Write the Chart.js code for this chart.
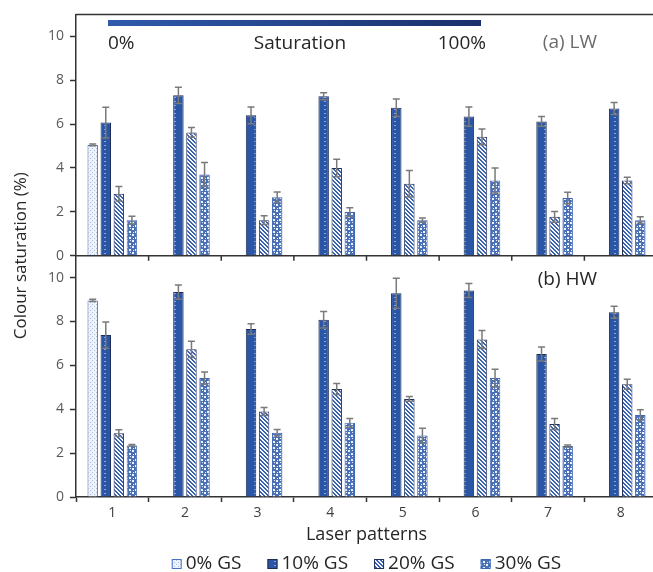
<!DOCTYPE html>
<html>
<head>
<meta charset="utf-8">
<title>Colour saturation</title>
<script src="https://cdn.jsdelivr.net/npm/chart.js@4.4.1/dist/chart.umd.min.js"></script>
<style>
  html, body { margin: 0; padding: 0; background: #fff; overflow: hidden; }
  #wrap { position: relative; width: 660px; height: 572px; }
</style>
</head>
<body>
<div id="wrap"><canvas id="chart"></canvas></div>
<script>
"use strict";

// Data
const patterns = ["1", "2", "3", "4", "5", "6", "7", "8"];
const seriesNames = ["0% GS", "10% GS", "20% GS", "30% GS"];

// (a) LW
const lw0  = [5.05, null, null, null, null, null, null, null];
const lw10 = [6.07, 7.31, 6.40, 7.27, 6.74, 6.34, 6.12, 6.71];
const lw20 = [2.82, 5.62, 1.62, 4.00, 3.28, 5.42, 1.77, 3.43];
const lw30 = [1.62, 3.70, 2.67, 1.99, 1.62, 3.43, 2.63, 1.62];
const lw0Err  = [0.04, null, null, null, null, null, null, null];
const lw10Err = [0.70, 0.37, 0.38, 0.16, 0.40, 0.44, 0.22, 0.27];
const lw20Err = [0.33, 0.22, 0.20, 0.40, 0.60, 0.36, 0.25, 0.15];
const lw30Err = [0.18, 0.55, 0.23, 0.20, 0.10, 0.57, 0.26, 0.15];

// (b) HW
const hw0  = [8.96, null, null, null, null, null, null, null];
const hw10 = [7.38, 9.34, 7.66, 8.08, 9.29, 9.41, 6.52, 8.42];
const hw20 = [2.91, 6.73, 3.90, 4.92, 4.47, 7.18, 3.33, 5.14];
const hw30 = [2.35, 5.42, 2.93, 3.38, 2.80, 5.42, 2.32, 3.74];
const hw0Err  = [0.05, null, null, null, null, null, null, null];
const hw10Err = [0.60, 0.33, 0.24, 0.38, 0.68, 0.32, 0.32, 0.27];
const hw20Err = [0.15, 0.37, 0.18, 0.25, 0.11, 0.41, 0.25, 0.23];
const hw30Err = [0.04, 0.28, 0.15, 0.20, 0.33, 0.40, 0.05, 0.24];

const yTicks = [0, 2, 4, 6, 8, 10];

// Fill patterns for the four series
function makePattern(w, h, draw) {
  const c = document.createElement("canvas");
  c.width = w; c.height = h;
  draw(c.getContext("2d"));
  return c.getContext("2d").createPattern(c, "repeat");
}

const pat0 = makePattern(4, 4, function (g) {
  g.fillStyle = "#eef2fa"; g.fillRect(0, 0, 4, 4);
  g.fillStyle = "#a9bce2"; g.fillRect(0, 0, 1, 1); g.fillRect(2, 2, 1, 1);
});
const pat10 = makePattern(10, 4, function (g) {
  g.fillStyle = "#2b56a6"; g.fillRect(0, 0, 10, 4);
  g.fillStyle = "#86a6e0"; g.fillRect(4, 1, 2, 1);
});
const pat20 = makePattern(4, 4, function (g) {
  g.fillStyle = "#f4f7fc"; g.fillRect(0, 0, 4, 4);
  g.fillStyle = "#3a61ad";
  for (let i = 0; i < 4; i++) { g.fillRect(i, i, 1, 1); g.fillRect((i + 1) % 4, i, 1, 1); }
});
const pat30 = makePattern(6, 6, function (g) {
  g.fillStyle = "#4a70b8"; g.fillRect(0, 0, 6, 6);
  g.fillStyle = "#eef3fb";
  g.fillRect(0, 0, 2, 2); g.fillRect(3, 3, 2, 2); g.fillRect(4, 0, 1, 1); g.fillRect(1, 4, 1, 1);
});

const fills = [pat0, pat10, pat20, pat30];
const borders = ["#4a72bf", "#1c2d57", "#23315a", "#3f66b3"];

const lwData = [lw0, lw10, lw20, lw30];
const lwErrs = [lw0Err, lw10Err, lw20Err, lw30Err];
const hwData = [hw0, hw10, hw20, hw30];
const hwErrs = [hw0Err, hw10Err, hw20Err, hw30Err];

const datasets = [];
seriesNames.forEach(function (name, i) {
  datasets.push({
    label: name, data: lwData[i], errors: lwErrs[i], yAxisID: "yA", stack: "s" + i,
    backgroundColor: fills[i], borderColor: borders[i], borderWidth: 1
  });
});
seriesNames.forEach(function (name, i) {
  datasets.push({
    label: name, data: hwData[i], errors: hwErrs[i], yAxisID: "yB", stack: "s" + i,
    backgroundColor: fills[i], borderColor: borders[i], borderWidth: 1
  });
});

// Error bars (drawn over the bars, grey)
const errorBars = {
  id: "errorBars",
  afterDatasetsDraw(chart) {
    const ctx = chart.ctx;
    ctx.save();
    ctx.strokeStyle = "#7a7a7a";
    ctx.lineWidth = 1.5;
    chart.data.datasets.forEach(function (ds, di) {
      const meta = chart.getDatasetMeta(di);
      const scale = chart.scales[ds.yAxisID];
      meta.data.forEach(function (bar, i) {
        const v = ds.data[i], e = ds.errors[i];
        if (v == null || e == null) return;
        const yHi = scale.getPixelForValue(v + e);
        const yLo = scale.getPixelForValue(v - e);
        ctx.beginPath();
        ctx.moveTo(bar.x, yLo); ctx.lineTo(bar.x, yHi);
        ctx.moveTo(bar.x - 3.5, yHi); ctx.lineTo(bar.x + 3.5, yHi);
        ctx.moveTo(bar.x - 3.5, yLo); ctx.lineTo(bar.x + 3.5, yLo);
        ctx.stroke();
      });
    });
    ctx.restore();
  }
};

// Frame, panel divider, panel labels, saturation bar, shared y title
const decorations = {
  id: "decorations",
  afterDraw(chart) {
    const ctx = chart.ctx;
    const area = chart.chartArea;
    const x = chart.scales.x, yA = chart.scales.yA, yB = chart.scales.yB;
    const step = x.getPixelForValue(1) - x.getPixelForValue(0);
    ctx.save();

    ctx.strokeStyle = "#333";
    ctx.lineWidth = 1.5;
    ctx.beginPath();
    ctx.moveTo(area.left, area.top); ctx.lineTo(area.right, area.top);
    ctx.moveTo(area.left, yA.bottom); ctx.lineTo(area.right, yA.bottom);
    for (let i = 1; i < patterns.length; i++) {
      const bx = x.getPixelForValue(i) - step / 2;
      ctx.moveTo(bx, yA.bottom); ctx.lineTo(bx, yA.bottom + 5);
    }
    ctx.stroke();

    // saturation gradient bar
    const g = ctx.createLinearGradient(108, 0, 481, 0);
    g.addColorStop(0, "#2f5bab");
    g.addColorStop(1, "#1b2f6c");
    ctx.fillStyle = g;
    ctx.fillRect(108, 20, 373, 6);

    ctx.fillStyle = "#262626";
    ctx.font = "19px 'Open Sans'";
    ctx.textBaseline = "middle";
    ctx.textAlign = "left";
    ctx.fillText("0%", 108, 44);
    ctx.textAlign = "center";
    ctx.fillText("Saturation", 300, 44);
    ctx.textAlign = "right";
    ctx.fillText("100%", 486, 44);

    ctx.fillStyle = "#6b6b6b";
    ctx.fillText("(a) LW", 597, 43);
    ctx.fillStyle = "#262626";
    ctx.fillText("(b) HW", 597, 280);

    // legend row under the axis title
    ctx.font = "19px 'Open Sans'";
    ctx.textAlign = "left";
    ctx.lineWidth = 1;
    const items = chart.data.datasets.slice(0, seriesNames.length);
    const widths = items.map(function (ds) { return 14 + ctx.measureText(ds.label).width; });
    const gap = 26;
    const total = widths.reduce(function (a, b) { return a + b; }, 0) + gap * (items.length - 1);
    let lx = (area.left + area.right) / 2 - total / 2;
    const ly = 564;
    items.forEach(function (ds, i) {
      ctx.fillStyle = ds.backgroundColor;
      ctx.fillRect(lx, ly - 5, 10, 10);
      ctx.strokeStyle = ds.borderColor;
      ctx.strokeRect(lx + 0.5, ly - 4.5, 9, 9);
      ctx.fillStyle = "#262626";
      ctx.fillText(ds.label, lx + 14, ly);
      lx += widths[i] + gap;
    });

    // shared y title
    ctx.translate(21, (yA.top + yB.bottom) / 2);
    ctx.rotate(-Math.PI / 2);
    ctx.textAlign = "center";
    ctx.font = "17px 'Open Sans'";
    ctx.fillStyle = "#262626";
    ctx.fillText("Colour saturation (%)", 0, 0);
    ctx.restore();
  }
};

function yScale(order) {
  return {
    type: "linear",
    position: "left",
    stack: "panels",
    stackWeight: 1,
    weight: order,
    min: 0,
    max: 11,
    afterBuildTicks: function (s) { s.ticks = yTicks.map(function (v) { return { value: v }; }); },
    afterFit: function (s) { s.width = 76; },
    grid: { drawOnChartArea: false, tickLength: 6, tickColor: "#333", tickWidth: 1.5 },
    border: { color: "#333", width: 1.5 },
    ticks: { color: "#595959", font: { family: "Open Sans", size: 14 }, padding: 6 }
  };
}

new Chart(document.getElementById("chart"), {
  type: "bar",
  data: { labels: patterns, datasets: datasets },
  options: {
    responsive: true,
    maintainAspectRatio: false,
    animation: false,
    categoryPercentage: 0.72,
    barPercentage: 0.8,
    layout: { padding: { top: 11, left: 0, right: 3, bottom: 0 } },
    scales: {
      x: {
        type: "category",
        offset: true,
        afterFit: function (s) { s.height = 75; },
        grid: { offset: true, drawOnChartArea: false, tickLength: 5, tickColor: "#333", tickWidth: 1.5 },
        border: { color: "#333", width: 1.5 },
        ticks: { color: "#404040", font: { family: "Open Sans", size: 14 }, padding: 3 },
        title: { display: true, text: "Laser patterns", color: "#262626", font: { family: "Open Sans", size: 18 }, padding: { top: 0, bottom: 26 } }
      },
      yA: yScale(2),
      yB: yScale(1)
    },
    plugins: {
      legend: { display: false },
      tooltip: { enabled: false }
    }
  },
  plugins: [errorBars, decorations]
});
</script>
</body>
</html>
